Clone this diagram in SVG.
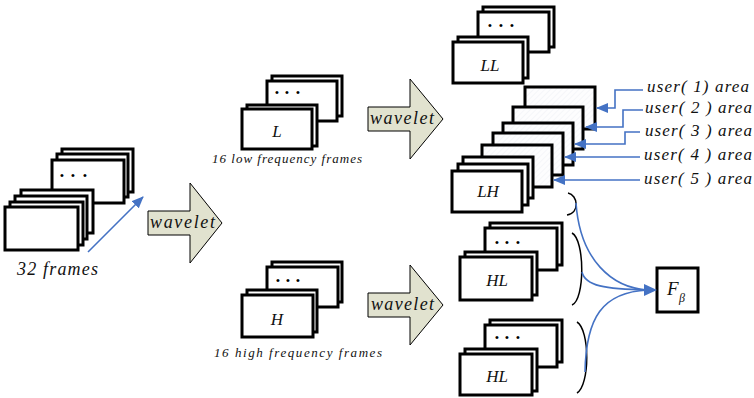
<svg xmlns="http://www.w3.org/2000/svg" width="754" height="398" viewBox="0 0 754 398">
<defs>
<style>
.f{fill:#fff;stroke:#000;stroke-width:3}
.h{fill:url(#hatch);stroke:#000;stroke-width:3}
.t{font-family:"Liberation Serif","Times New Roman",serif;font-style:italic;fill:#111}
.dot{font-family:"Liberation Sans",Arial,sans-serif;font-size:11px;fill:#000;text-anchor:middle}
.lb{font-size:17px;text-anchor:middle}
.wv{fill:#e1e2cf;stroke:#000;stroke-width:1}
.bl{fill:none;stroke:#4472c4;stroke-width:1.6}
.br{fill:none;stroke:#000;stroke-width:1.5}
</style>
<pattern id="hatch" width="4" height="4" patternUnits="userSpaceOnUse" patternTransform="rotate(45)">
<rect width="4" height="4" fill="#fdfdfe"/>
<line x1="0" y1="0" x2="0" y2="4" stroke="#eef0f4" stroke-width="1"/>
</pattern>
<marker id="ah" markerWidth="12" markerHeight="10" refX="11" refY="5" orient="auto" markerUnits="userSpaceOnUse">
<path d="M0,0 L12,5 L0,10 z" fill="#4472c4"/>
</marker>
</defs>

<g id="frames32">
<rect class="f" x="62" y="149" width="71" height="43"/>
<rect class="f" x="57" y="154" width="71" height="43"/>
<rect class="f" x="52" y="160" width="72" height="43"/>
<text class="dot" y="179"><tspan x="62">•</tspan><tspan x="73">•</tspan><tspan x="85">•</tspan></text>
<rect class="f" x="21" y="190" width="72" height="43"/>
<rect class="f" x="15" y="196" width="72" height="43"/>
<rect class="f" x="10" y="202" width="73" height="43"/>
<rect class="f" x="5" y="207" width="73" height="43"/>
<text class="t" x="17" y="275" font-size="18" textLength="81" lengthAdjust="spacing">32 frames</text>
</g>

<g id="wavelet1">
<path class="wv" d="M148,211 H190 V183 L222,223 L190,263 V235 H148 Z"/>
<text class="t" x="150" y="228" font-size="18" textLength="65" lengthAdjust="spacing">wavelet</text>
</g>

<g id="L">
<rect class="f" x="272" y="76" width="70" height="40"/>
<rect class="f" x="267" y="81" width="70" height="40"/>
<text class="dot" y="96"><tspan x="277">•</tspan><tspan x="287">•</tspan><tspan x="298">•</tspan></text>
<rect class="f" x="247" y="105" width="70" height="41"/>
<rect class="f" x="242" y="109" width="70" height="40"/>
<text class="t lb" x="277" y="137">L</text>
<text class="t" x="212" y="163" font-size="13" textLength="150" lengthAdjust="spacing">16 low frequency frames</text>
</g>

<g id="H">
<rect class="f" x="272" y="262" width="70" height="40"/>
<rect class="f" x="267" y="267" width="71" height="40"/>
<text class="dot" y="284"><tspan x="278">•</tspan><tspan x="288">•</tspan><tspan x="298">•</tspan></text>
<rect class="f" x="247" y="290" width="70" height="42"/>
<rect class="f" x="242" y="295" width="71" height="42"/>
<text class="t lb" x="277" y="325">H</text>
<text class="t" x="214" y="357" font-size="13" textLength="168" lengthAdjust="spacing">16 high frequency frames</text>
</g>

<g id="wavelet2">
<path class="wv" d="M368,107 H410 V79 L443,119 L410,159 V131 H368 Z"/>
<text class="t" x="370" y="124" font-size="18" textLength="64" lengthAdjust="spacing">wavelet</text>
</g>

<g id="wavelet3">
<path class="wv" d="M368,293 H410 V265 L443,305 L410,345 V317 H368 Z"/>
<text class="t" x="371" y="310" font-size="18" textLength="63" lengthAdjust="spacing">wavelet</text>
</g>

<g id="LL">
<rect class="f" x="483" y="7" width="71" height="40"/>
<rect class="f" x="478" y="12" width="71" height="40"/>
<text class="dot" y="29"><tspan x="490">•</tspan><tspan x="501">•</tspan><tspan x="512">•</tspan></text>
<rect class="f" x="458" y="37" width="70" height="41"/>
<rect class="f" x="453" y="42" width="70" height="41"/>
<text class="t lb" x="490" y="71">LL</text>
</g>

<g id="LH">
<rect class="h" x="525" y="87" width="70" height="42"/>
<rect class="h" x="513" y="107" width="70" height="42"/>
<rect class="h" x="503" y="123" width="70" height="42"/>
<rect class="h" x="493" y="133" width="70" height="42"/>
<rect class="h" x="482" y="145" width="70" height="42"/>
<rect class="f" x="463" y="157" width="70" height="41"/>
<rect class="f" x="458" y="164" width="70" height="41"/>
<rect class="f" x="452" y="171" width="70" height="41"/>
<text class="t lb" x="488" y="197">LH</text>
</g>

<g id="HL1">
<rect class="f" x="490" y="223" width="72" height="42"/>
<rect class="f" x="485" y="228" width="72" height="42"/>
<text class="dot" y="246"><tspan x="497">•</tspan><tspan x="507">•</tspan><tspan x="518">•</tspan></text>
<rect class="f" x="465" y="252" width="72" height="43"/>
<rect class="f" x="460" y="257" width="72" height="43"/>
<text class="t lb" x="497" y="286">HL</text>
</g>

<g id="HL2">
<rect class="f" x="490" y="320" width="72" height="42"/>
<rect class="f" x="485" y="325" width="72" height="42"/>
<text class="dot" y="341"><tspan x="497">•</tspan><tspan x="507">•</tspan><tspan x="518">•</tspan></text>
<rect class="f" x="465" y="349" width="72" height="42"/>
<rect class="f" x="460" y="354" width="72" height="41"/>
<text class="t lb" x="497" y="382">HL</text>
</g>

<g id="Fbeta">
<rect class="f" x="657" y="268" width="41" height="44"/>
<text class="t" x="667" y="295" font-size="19">F</text>
<text class="t" x="679" y="302" font-size="12">β</text>
</g>

<g id="users">
<text class="t" x="647" y="92" font-size="17" textLength="102" lengthAdjust="spacing">user( 1) area</text>
<text class="t" x="645" y="113" font-size="17" textLength="107" lengthAdjust="spacing">user( 2 ) area</text>
<text class="t" x="645" y="136" font-size="17" textLength="107" lengthAdjust="spacing">user( 3 ) area</text>
<text class="t" x="644" y="160" font-size="17" textLength="108" lengthAdjust="spacing">user( 4 ) area</text>
<text class="t" x="644" y="184" font-size="17" textLength="108" lengthAdjust="spacing">user( 5 ) area</text>
</g>

<g id="connectors">
<line class="bl" x1="88" y1="252" x2="143" y2="197" marker-end="url(#ah)"/>
<path class="bl" d="M643,90 H615 V108 H597" marker-end="url(#ah)"/>
<path class="bl" d="M643,110 H623 V127 H586" marker-end="url(#ah)"/>
<path class="bl" d="M640,132 H625 V144 H575" marker-end="url(#ah)"/>
<path class="bl" d="M640,157 H565" marker-end="url(#ah)"/>
<path class="bl" d="M640,180 H554" marker-end="url(#ah)"/>
<path class="br" d="M568,193 C578,195 580,213 567,215"/>
<path class="br" d="M572,233 C585,240 585,300 572,305"/>
<path class="br" d="M577,322 C590,330 590,385 577,393"/>
<path class="bl" d="M576,203 C580,260 612,288 648,290"/>
<path class="bl" d="M582,272 C585,286 605,289 648,290"/>
<path class="bl" d="M585,372 C586,318 602,292 648,290"/>
<polygon points="644,284 657,290 644,296" fill="#4472c4"/>
</g>
</svg>
